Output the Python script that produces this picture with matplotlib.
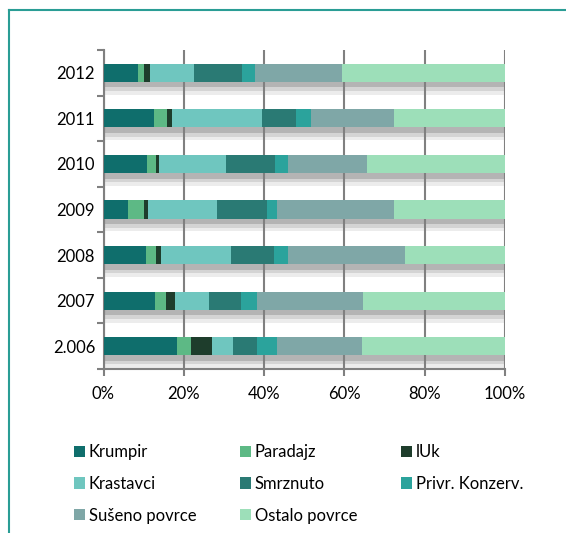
import numpy as np
import matplotlib
matplotlib.use("Agg")
import matplotlib.pyplot as plt
from matplotlib.lines import Line2D
from matplotlib.patches import Patch

plt.rcParams['font.family'] = ['Lato', 'DejaVu Sans']

years = ['2.006', '2007', '2008', '2009', '2010', '2011', '2012']
series = ['Krumpir', 'Paradajz', 'lUk', 'Krastavci', 'Smrznuto',
          'Privr. Konzerv.', 'Sušeno povrce', 'Ostalo povrce']
colors = ['#0f6e6c', '#5db985', '#1e3d2c', '#6fc6bf', '#2a7a74',
          '#2ba39c', '#7fa7a7', '#9ddfb9']

# share in % per year (2.006 .. 2012)
krumpir = [18.3, 12.8, 10.5, 6.2, 10.8, 12.6, 8.7]
paradajz = [3.4, 2.8, 2.5, 3.9, 2.4, 3.3, 1.3]
luk = [5.2, 2.1, 1.4, 0.9, 0.5, 1.1, 1.5]
krastavci = [5.3, 8.5, 17.4, 17.2, 16.7, 22.6, 11.0]
smrznuto = [6.0, 8.0, 10.7, 12.5, 12.3, 8.4, 11.9]
privr = [5.1, 4.0, 3.4, 2.4, 3.3, 3.6, 3.3]
suseno = [21.1, 26.5, 29.2, 29.2, 19.7, 20.7, 21.8]
ostalo = [35.6, 35.3, 24.9, 27.7, 34.3, 27.7, 40.5]

values = [krumpir, paradajz, luk, krastavci, smrznuto, privr, suseno, ostalo]

fig = plt.figure(figsize=(5.66, 5.33), dpi=100)
ax = fig.add_axes([103.5 / 566, 1 - 369 / 533, (505 - 103.5) / 566, (369 - 50) / 533])

y = np.arange(len(years))
totals = np.sum(values, axis=0)

# shadow under the bars
ax.barh(y - 0.26, totals, height=0.12, color='#b4b4b4', zorder=1)
ax.barh(y - 0.36, totals, height=0.08, color='#d4d4d4', zorder=1)
ax.barh(y - 0.44, totals, height=0.08, color='#ececec', zorder=1)

left = np.zeros(len(years))
for vals, c, name in zip(values, colors, series):
    ax.barh(y, vals, left=left, height=0.4, color=c, label=name, zorder=3)
    left += np.array(vals)

ax.set_xlim(0, 100)
ax.set_ylim(-0.5, len(years) - 0.5)
ax.set_xticks(np.arange(0, 101, 20))
ax.set_xticklabels([f'{v}%' for v in range(0, 101, 20)])
ax.set_yticks(y)
ax.set_yticklabels(years)
ax.set_yticks(np.arange(-0.5, len(years), 1), minor=True)
ax.tick_params(axis='y', which='major', length=0, pad=6, labelsize=12)
ax.tick_params(axis='y', which='minor', length=5, width=1.5, color='#808080')
ax.tick_params(axis='x', length=5, width=1.5, color='#808080', pad=7, labelsize=12)
ax.xaxis.grid(True, color='#808080', linewidth=1.5, zorder=2)
ax.set_axisbelow(False)
for s in ['top', 'right']:
    ax.spines[s].set_visible(False)
for s in ['left', 'bottom']:
    ax.spines[s].set_color('#808080')
    ax.spines[s].set_linewidth(1.5)

# legend filled row by row like the original
order = [0, 3, 6, 1, 4, 7, 2, 5]
handles = [Patch(facecolor=colors[i], edgecolor='none') for i in order]
labels = [series[i] for i in order]
fig.legend(handles, labels, ncol=3, loc='upper left',
           bbox_to_anchor=(59 / 566, 1 - 429 / 533), frameon=False,
           fontsize=12, handlelength=0.65, handleheight=0.65, handletextpad=0.25,
           columnspacing=2.6, labelspacing=0.95)

# outer frame (top and left only)
fig.add_artist(Line2D([9 / 566, 1], [1 - 10 / 533, 1 - 10 / 533],
                      color='#2a9d95', linewidth=1.5))
fig.add_artist(Line2D([9 / 566, 9 / 566], [1 - 10 / 533, 0],
                      color='#2a9d95', linewidth=1.5))

fig.savefig('out.png', dpi=100)
